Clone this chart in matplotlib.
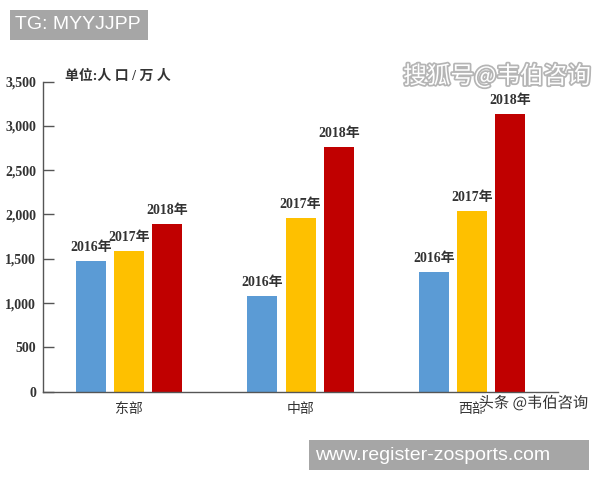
import matplotlib.pyplot as plt
import matplotlib.patheffects as pe
from matplotlib.patches import Rectangle
import numpy as np

regions = ['东部', '中部', '西部']
years = ['2016年', '2017年', '2018年']
pop_2016 = [1475, 1075, 1350]
pop_2017 = [1585, 1960, 2045]
pop_2018 = [1895, 2765, 3135]
colors = ['#5b9bd5', '#fec000', '#c00000']
yticks = [0, 500, 1000, 1500, 2000, 2500, 3000, 3500]

serif = ['Liberation Serif', 'Noto Sans CJK SC']

fig = plt.figure(figsize=(6, 4.8), dpi=100)
ax = fig.add_axes([0.072, 0.184, 0.858, 0.646])

x = np.arange(len(regions))
width = 0.175
step = 0.223
for i, (vals, yr, c) in enumerate(zip([pop_2016, pop_2017, pop_2018], years, colors)):
    bars = ax.bar(x + (i - 1) * step, vals, width, color=c)
    for b in bars:
        ax.annotate(yr, (b.get_x() + b.get_width() / 2, b.get_height()),
                    xytext=(0, 5), textcoords='offset points',
                    ha='center', va='bottom', fontsize=10, color='#333333',
                    family=serif, fontweight='bold')

ax.set_xlim(-0.5, 2.5)
ax.set_ylim(0, 3500)
ax.set_yticks(yticks)
ax.set_yticklabels([f'{v:,}' for v in yticks], family=serif, fontsize=10,
                   color='#333333', fontweight='bold')
ax.set_xticks(x)
ax.set_xticklabels(regions, family=serif, fontsize=10, color='#333333')
ax.tick_params(axis='y', direction='in', length=8, width=1, color='#555555', pad=5)
ax.tick_params(axis='x', length=0, pad=8)
for s in ['top', 'right']:
    ax.spines[s].set_visible(False)
for s in ['left', 'bottom']:
    ax.spines[s].set_color('#555555')
    ax.spines[s].set_linewidth(1)

fig.text(0.108, 0.842, '单位:人 口 / 万 人', family=serif, fontsize=10,
         color='#333333', va='center', fontweight='bold')

# watermarks
fig.text(0.985, 0.842, '搜狐号@韦伯咨询', family=['Noto Sans CJK SC'], fontsize=17,
         color='white', ha='right', va='center',
         path_effects=[pe.withStroke(linewidth=2.5, foreground='#b5b5b5')])
fig.text(0.98, 0.16, '头条 @韦伯咨询', family=['Noto Sans CJK SC'], fontsize=11,
         color='#333333', ha='right', va='center',
         path_effects=[pe.withStroke(linewidth=2, foreground='white')])

fig.patches.append(Rectangle((0.0167, 0.9167), 0.23, 0.0625, transform=fig.transFigure,
                             fc='#a6a6a6', ec='none'))
fig.text(0.025, 0.948, 'TG: MYYJJPP', fontsize=14, color='white', va='center',
         family=['Liberation Sans'])
fig.patches.append(Rectangle((0.515, 0.0208), 0.467, 0.0625, transform=fig.transFigure,
                             fc='#a6a6a6', ec='none'))
fig.text(0.525, 0.052, 'www.register-zosports.com', fontsize=14, color='white',
         va='center', family=['Liberation Sans'])

fig.savefig('out.png', dpi=100)
